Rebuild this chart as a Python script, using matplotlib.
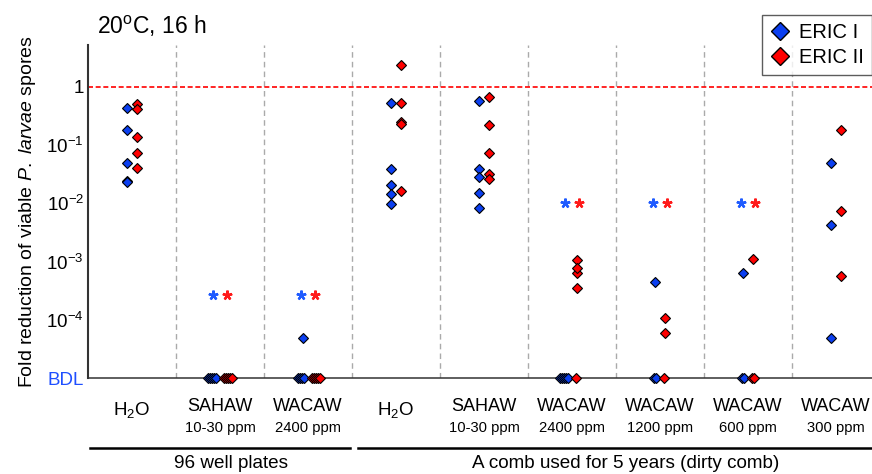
import numpy as np
import matplotlib
matplotlib.use("Agg")
import matplotlib.pyplot as plt
import matplotlib.transforms as mtransforms
from matplotlib.lines import Line2D
from matplotlib.ticker import NullLocator

plt.rcParams['font.family'] = ['Liberation Sans', 'DejaVu Sans']
plt.rcParams['mathtext.fontset'] = 'custom'
plt.rcParams['mathtext.rm'] = 'Liberation Sans'
plt.rcParams['mathtext.it'] = 'Liberation Sans:italic'
plt.rcParams['mathtext.bf'] = 'Liberation Sans:bold'

BDL = 1e-5

# category labels (two lines: name / concentration)
names = ["H$_2$O", "SAHAW", "WACAW", "H$_2$O", "SAHAW", "WACAW", "WACAW", "WACAW", "WACAW"]
concs = ["", "10-30 ppm", "2400 ppm", "", "10-30 ppm", "2400 ppm", "1200 ppm", "600 ppm", "300 ppm"]

# fold reduction per category, BDL = below detection limit
eric1 = [
    [0.43, 0.18, 0.049, 0.024, 0.023],
    [BDL, BDL, BDL, BDL, BDL],
    [5.0e-5, BDL, BDL, BDL, BDL],
    [0.53, 0.039, 0.0204, 0.0143, 0.0096],
    [0.57, 0.039, 0.0286, 0.0152, 0.0084],
    [BDL, BDL, BDL, BDL, BDL],
    [4.4e-4, BDL, BDL],
    [6.3e-4, BDL, BDL],
    [0.050, 4.2e-3, 5.0e-5],
]
eric2 = [
    [0.50, 0.42, 0.135, 0.074, 0.041],
    [BDL, BDL, BDL, BDL, BDL],
    [BDL, BDL, BDL, BDL, BDL],
    [2.36, 0.525, 0.25, 0.226, 0.016],
    [0.66, 0.218, 0.072, 0.032, 0.026],
    [1.07e-3, 7.9e-4, 6.3e-4, 3.5e-4, BDL],
    [1.1e-4, 5.9e-5, BDL],
    [1.1e-3, BDL, BDL],
    [0.18, 7.4e-3, 5.6e-4],
]

# significance asterisks: category index and height
sig_cats = [1, 2, 5, 6, 7]
sig_y = [2.7e-4, 2.7e-4, 1e-2, 1e-2, 1e-2]

groups = ["96 well plates", "A comb used for 5 years (dirty comb)"]
group_spans = [(0, 2), (3, 8)]

blue = '#0b3ff0'
red = '#ff0000'

fig = plt.figure(figsize=(8.72, 4.74), dpi=100)
ax = fig.add_axes([88 / 872, 1 - 378.3 / 474, (872 - 88) / 872, (378.3 - 45) / 474])
ax.set_yscale('log')
ax.set_ylim(BDL, 10 ** 0.715)
ax.set_xlim(-0.5, 8.41)


def positions(i, vals, side):
    # spread BDL replicates sideways, keep others in a column
    xs = []
    k = 0
    for v in vals:
        if v <= BDL:
            xs.append(i + side * (0.045 + 0.024 * k))
            k += 1
        else:
            xs.append(i + side * 0.055)
    xs = np.array(xs)
    order = np.argsort(xs)
    return xs[order], np.array(vals)[order]


for i in range(len(names)):
    x, y = positions(i, eric1[i], -1)
    ax.plot(x, y, ls='none', marker='D', ms=5.6, mfc=blue, mec='black', mew=0.8,
            clip_on=False, zorder=4)
for i in range(len(names)):
    x, y = positions(i, eric2[i], 1)
    ax.plot(x, y, ls='none', marker='D', ms=5.6, mfc=red, mec='black', mew=0.8,
            clip_on=False, zorder=5)

# asterisks
ax.plot(np.array(sig_cats) - 0.083, sig_y, ls='none', marker=(5, 2, 0), ms=7,
        mec='#1f5bff', mew=1.7, zorder=4)
ax.plot(np.array(sig_cats) + 0.083, sig_y, ls='none', marker=(5, 2, 0), ms=7,
        mec='#ff1a1a', mew=1.7, zorder=4)

# reference line and separators
ax.axhline(1, color='red', lw=1.2, dashes=(3, 1.6), zorder=2)
for i in range(len(names) - 1):
    ax.axvline(i + 0.5, color='#aaaaaa', lw=1, dashes=(4, 3), zorder=1)

# axes styling
for s in ['top', 'right']:
    ax.spines[s].set_visible(False)
ax.spines['left'].set_linewidth(1.5)
ax.spines['left'].set_color('#333333')
ax.spines['bottom'].set_linewidth(1.1)
ax.spines['bottom'].set_color('#333333')

ax.set_yticks([1e-5, 1e-4, 1e-3, 1e-2, 1e-1, 1])
ax.set_yticklabels(['BDL', '$10^{-4}$', '$10^{-3}$', '$10^{-2}$', '$10^{-1}$', '1'])
ax.yaxis.set_minor_locator(NullLocator())
ax.tick_params(axis='y', length=0, pad=3, labelsize=13.5)
ax.get_yticklabels()[0].set_color('#1f4fff')
ax.set_xticks([])

ax.set_ylabel(r"Fold reduction of viable $\it{P.\ larvae}$ spores", fontsize=14, labelpad=6)

trans = mtransforms.blended_transform_factory(ax.transData, ax.transAxes)
for i, (n, c) in enumerate(zip(names, concs)):
    if c:
        ax.text(i, -0.086, n, transform=trans, ha='center', va='center', fontsize=13)
        ax.text(i, -0.149, c, transform=trans, ha='center', va='center', fontsize=10.6)
    else:
        ax.text(i, -0.095, n, transform=trans, ha='center', va='center', fontsize=13.5)

# group brackets
for (a, b), g in zip(group_spans, groups):
    x0 = a - 0.477 if a == 0 else a - 0.432
    x1 = b + 0.477 if b < len(names) - 1 else b + 0.6
    ax.add_line(Line2D([x0, x1], [-0.209, -0.209], transform=trans, color='black',
                       lw=1.8, clip_on=False))
    xc = (x0 + min(x1, 8.41)) / 2 + 0.12
    ax.text(xc, -0.257, g, transform=trans, ha='center', va='center', fontsize=13.6)

fig.text(97 / 872, 1 - 26 / 474, r"20$^{\rm o}$C, 16 h", ha='left', va='center', fontsize=16.5)

handles = [Line2D([], [], ls='none', marker='D', ms=9, mfc=blue, mec='black', mew=1),
           Line2D([], [], ls='none', marker='D', ms=9, mfc=red, mec='black', mew=1)]
leg = fig.legend(handles, ['ERIC I', 'ERIC II'], loc='upper left',
                 bbox_to_anchor=(762 / 872, 1 - 15 / 474), borderaxespad=0,
                 fontsize=14.5, frameon=True, fancybox=False, handlelength=1.0,
                 handletextpad=0.45, borderpad=0.4, labelspacing=0.3)
leg.get_frame().set_edgecolor('#333333')
leg.get_frame().set_linewidth(1.0)

fig.savefig("out.png", dpi=100)
